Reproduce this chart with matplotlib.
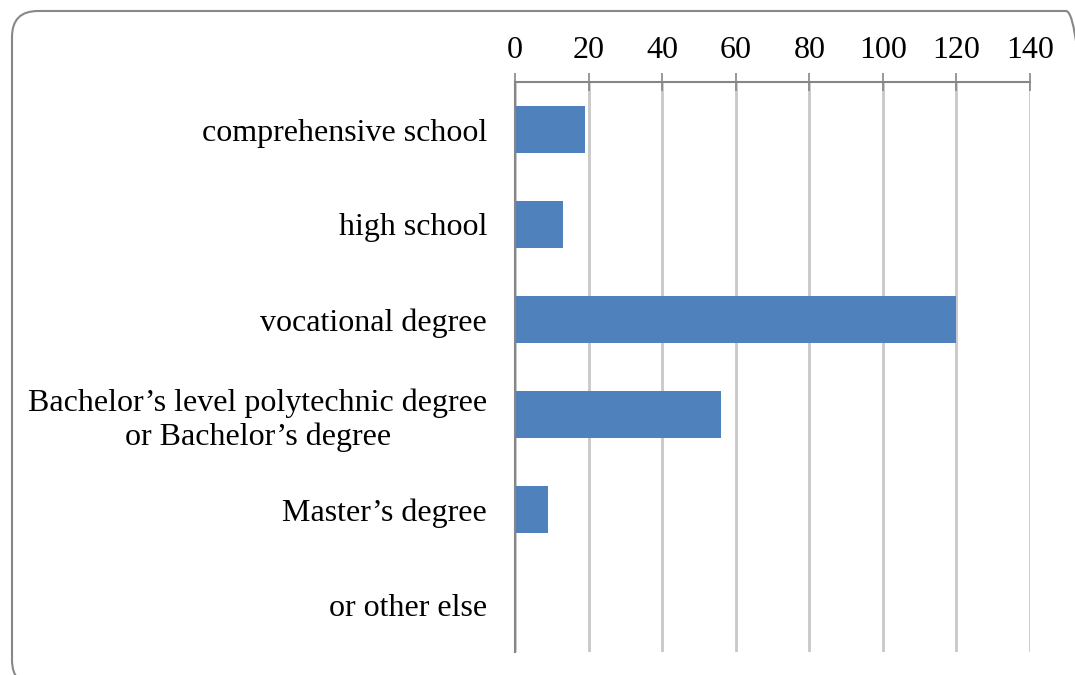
import matplotlib.pyplot as plt
from matplotlib.patches import FancyBboxPatch

# data
categories = ['comprehensive school', 'high school', 'vocational degree',
              'Bachelor\u2019s level polytechnic degree\nor Bachelor\u2019s degree',
              'Master\u2019s degree', 'or other else']
counts = [19, 13, 120, 56, 9, 0]
x_ticks = [0, 20, 40, 60, 80, 100, 120, 140]

plt.rcParams['font.family'] = ['Liberation Serif', 'DejaVu Serif']

fig = plt.figure(figsize=(10.75, 6.75), dpi=100)

# rounded frame around the chart (in inches, runs off right and bottom edges)
frame = FancyBboxPatch((0.12, -0.11), 10.80, 6.75,
                       boxstyle='round,pad=0,rounding_size=0.26',
                       transform=fig.dpi_scale_trans, facecolor='none',
                       edgecolor='#888888', linewidth=1.5)
fig.patches.append(frame)

ax = fig.add_axes([515 / 1075, 1 - 652 / 675, 515 / 1075, 570 / 675])

ypos = range(len(categories))
ax.barh(ypos, counts, height=0.5, color='#4F81BD', zorder=3)
ax.set_ylim(len(categories) - 0.5, -0.5)
ax.set_yticks(list(ypos))
ax.set_yticklabels(categories, fontsize=23, multialignment='center')
ax.tick_params(axis='y', length=0, pad=20)

ax.set_xlim(0, 140)
ax.set_xticks(x_ticks)
ax.xaxis.tick_top()
ax.tick_params(axis='x', labelsize=23, direction='inout', length=13,
               width=1.2, color='#868686', pad=6)
ax.grid(axis='x', color='#c8c8c8', linewidth=2, zorder=0)

for side in ['right', 'bottom']:
    ax.spines[side].set_visible(False)
ax.spines['top'].set_color('#868686')
ax.spines['top'].set_linewidth(1.5)
ax.spines['left'].set_color('#868686')
ax.spines['left'].set_linewidth(1.5)
ax.spines['left'].set_zorder(4)

fig.savefig('out.png', dpi=100)
